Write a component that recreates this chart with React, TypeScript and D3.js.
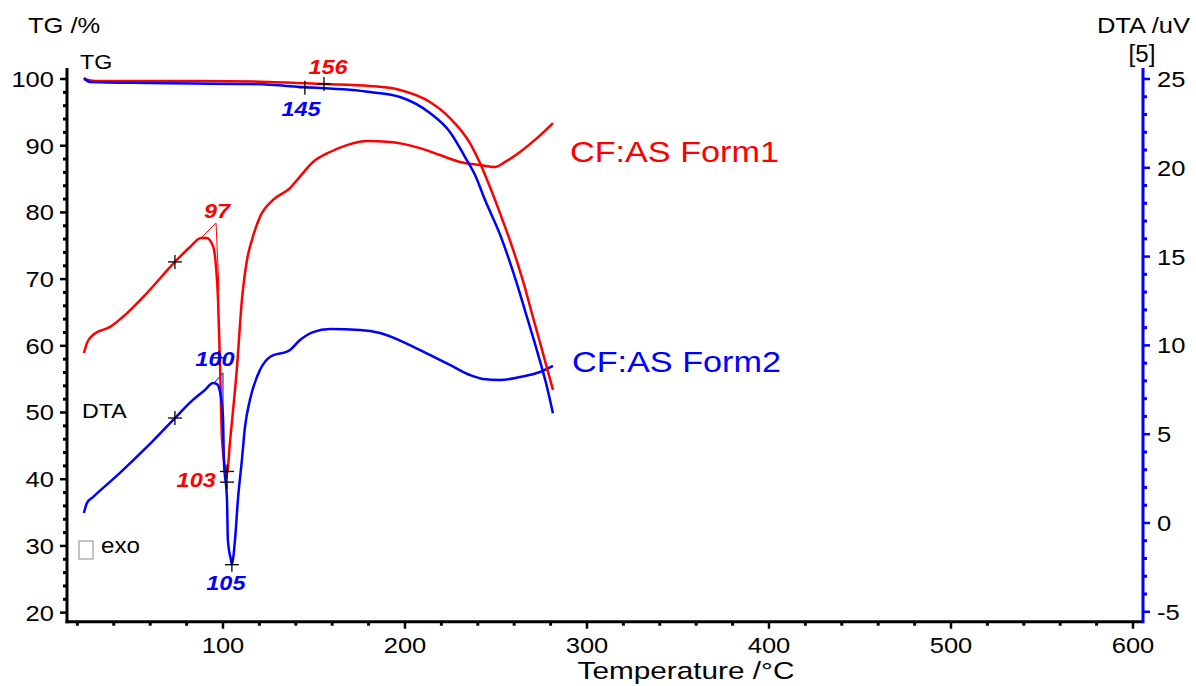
import * as d3 from 'd3';

// [temperature °C, TG %]
const tgForm1: [number, number][] = [
  [23.6, 100.0], [29.7, 99.7], [87.4, 99.7], [120.3, 99.6], [154.9, 99.25],
  [180.8, 98.95], [197.3, 98.35], [213.7, 96.55], [224.7, 94.15], [235.7, 90.4],
  [241.2, 87.4], [246.7, 83.8], [252.2, 79.9], [260.4, 73.6], [265.4, 69.2],
  [270.3, 64.3], [275.3, 59.4], [281.3, 53.4],
];
const tgForm2: [number, number][] = [
  [23.6, 100.15], [26.9, 99.55], [59.9, 99.4], [114.8, 99.25], [143.9, 98.8],
  [180.8, 98.05], [197.3, 97.3], [213.7, 94.9], [224.7, 92.05], [233.0, 88.3],
  [238.5, 85.6], [244.0, 81.85], [252.2, 76.7], [261.4, 69.4], [266.9, 64.4],
  [272.4, 59.4], [277.5, 54.4], [281.3, 49.9],
];
// [temperature °C, DTA uV]
const dtaForm1: [number, number][] = [
  [23.6, 9.57], [25.3, 10.14], [28.6, 10.59], [37.9, 11.04], [47.3, 11.82],
  [58.2, 12.95], [73.6, 14.7], [81.9, 15.54], [87.9, 16.05], [91.2, 16.05],
  [93.4, 15.82], [95.1, 15.37], [96.2, 14.41], [97.3, 12.56], [98.4, 8.78],
  [99.5, 4.67], [102.2, 2.76], [103.8, 4.5], [107.7, 8.78], [110.4, 12.56],
  [113.2, 14.81], [115.9, 15.93], [120.3, 17.23], [127.5, 18.19], [136.8, 18.86],
  [140.7, 19.31], [149.5, 20.33], [158.8, 20.89], [168.1, 21.28], [179.1, 21.51],
  [191.8, 21.45], [208.2, 21.11], [219.2, 20.72], [230.2, 20.33], [241.2, 20.16],
  [249.5, 20.05], [255.0, 20.33], [263.2, 20.89], [271.4, 21.57], [281.3, 22.52],
];
const dtaForm2: [number, number][] = [
  [23.6, 0.56], [25.3, 1.13], [28.6, 1.46], [43.4, 2.82], [58.2, 4.28],
  [73.6, 5.91], [83.5, 6.93], [90.1, 7.49], [94.5, 7.88], [96.7, 7.82],
  [98.4, 7.38], [100.0, 5.97], [100.5, 3.55], [102.2, 1.3], [102.7, -0.96],
  [104.4, -2.08], [104.9, -2.31], [106.6, -0.96], [108.2, 1.3], [110.4, 3.55],
  [112.1, 5.41], [114.8, 6.93], [120.3, 8.61], [125.8, 9.35], [136.8, 9.74],
  [142.3, 10.3], [149.5, 10.75], [158.8, 10.92], [175.3, 10.87], [186.3, 10.7],
  [202.7, 10.02], [213.7, 9.46], [224.7, 8.9], [235.7, 8.33], [242.9, 8.11],
  [252.2, 8.05], [263.2, 8.22], [274.2, 8.5], [281.3, 8.84],
];

// onset tangent constructions (DTA)
const onsetForm1: [number, number][] = [[87.9, 16.05], [96.2, 16.89], [97.8, 13.1]];
const onsetForm2: [number, number][] = [[95.1, 7.88], [100.0, 8.45], [100.0, 5.8]];

// evaluated points
const tgMarks: [number, number][] = [[155.5, 99.25], [145.0, 98.7]];
const dtaMarks: [number, number][] = [
  [73.6, 14.7], [73.6, 5.91], [97.8, 9.3], [102.2, 2.9], [102.2, 2.3], [104.9, -2.35],
];

// annotation texts: [label, T, value, colour]
const tgLabels: [string, number, number, string][] = [
  ['156', 157.7, 100.75, '#ff0000'],
  ['145', 142.9, 94.45, '#0000ff'],
];
const dtaLabels: [string, number, number, string][] = [
  ['97', 96.7, 17.17, '#ff0000'],
  ['100', 95.6, 8.84, '#0000ff'],
  ['103', 85.3, 2.03, '#ff0000'],
  ['105', 101.6, -3.77, '#0000ff'],
];

const xMajor = [100, 200, 300, 400, 500, 600];
const tgMajor = [20, 30, 40, 50, 60, 70, 80, 90, 100];
const dtaMajor = [-5, 0, 5, 10, 15, 20, 25];

const W = 1196;
const H = 686;
const FONT = 'Arial, "Liberation Sans", sans-serif';
const SX = 1.16; // the instrument export draws its text a little wide

type TxtProps = {
  x: number;
  y: number;
  size: number;
  children: any;
  anchor?: string;
  fill?: string;
  bold?: boolean;
  italic?: boolean;
  sx?: number;
  dy?: string;
};

function Txt({ x, y, size, children, anchor = 'start', fill = '#000', bold, italic, sx = SX, dy }: TxtProps) {
  return (
    <text
      transform={`translate(${x},${y}) scale(${sx},1)`}
      fontSize={size}
      textAnchor={anchor}
      fill={fill}
      dy={dy}
      fontWeight={bold ? 'bold' : 'normal'}
      fontStyle={italic ? 'italic' : 'normal'}
    >
      {children}
    </text>
  );
}

export default function App() {
  const x = d3.scaleLinear().domain([14.3, 605.5]).range([67, 1143]);
  const yTg = d3.scaleLinear().domain([18.64, 101.65]).range([621.7, 68]);
  const yDta = d3.scaleLinear().domain([-5.56, 25.62]).range([621.7, 68]);

  const lineTg = d3.line<[number, number]>().x((d) => x(d[0])).y((d) => yTg(d[1])).curve(d3.curveMonotoneX);
  const lineDta = d3.line<[number, number]>().x((d) => x(d[0])).y((d) => yDta(d[1])).curve(d3.curveMonotoneX);
  const plain = d3.line<[number, number]>().x((d) => x(d[0])).y((d) => yDta(d[1]));

  const xMinor = d3.range(20, 606, 20).filter((v) => v % 100 !== 0);
  const tgMinor = d3.range(20, 101, 2).filter((v) => v % 10 !== 0);
  const dtaMinor = d3.range(-5, 26, 1).filter((v) => v % 5 !== 0);

  const x0 = x.range()[0];
  const x1 = x.range()[1];
  const yB = yTg.range()[0];
  const yT = yTg.range()[1];

  const cross = (cx: number, cy: number, k: string) => (
    <g key={k} stroke="#000" strokeWidth={1.3}>
      <line x1={cx - 7} x2={cx + 7} y1={cy} y2={cy} />
      <line x1={cx} x2={cx} y1={cy - 7} y2={cy + 7} />
    </g>
  );

  return (
    <svg width={W} height={H} style={{ position: 'absolute', left: 0, top: 0, background: '#fff' }} fontFamily={FONT}>
      <rect width={W} height={H} fill="#fff" />

      {/* axis titles */}
      <Txt x={28} y={33} size={22}>TG /%</Txt>
      <Txt x={80} y={69} size={20}>TG</Txt>
      <Txt x={1190} y={33} size={22} anchor="end">DTA /uV</Txt>
      <Txt x={1142} y={62} size={23} anchor="middle" sx={1.05}>[5]</Txt>
      <Txt x={686} y={679} size={24} sx={1.24} anchor="middle">Temperature /°C</Txt>
      <Txt x={82} y={418} size={20}>DTA</Txt>
      <rect x={79} y={541} width={14} height={18} fill="none" stroke="#888" strokeWidth={1} />
      <Txt x={101} y={553} size={22} sx={1.1}>exo</Txt>

      {/* left axis */}
      <line x1={x0} x2={x0} y1={yT} y2={yB + 1.5} stroke="#000" strokeWidth={3} />
      {tgMajor.map((v) => (
        <g key={'tg' + v}>
          <line x1={x0 - 7} x2={x0} y1={yTg(v)} y2={yTg(v)} stroke="#000" strokeWidth={2.5} />
          <Txt x={x0 - 13} y={yTg(v)} dy="0.36em" size={22} anchor="end">{v}</Txt>
        </g>
      ))}
      {tgMinor.map((v) => (
        <line key={'tgm' + v} x1={x0 - 4} x2={x0} y1={yTg(v)} y2={yTg(v)} stroke="#000" strokeWidth={3} />
      ))}

      {/* bottom axis */}
      <line x1={x0 - 1.5} x2={x1} y1={yB} y2={yB} stroke="#000" strokeWidth={3} />
      {xMajor.map((v) => (
        <g key={'x' + v}>
          <line x1={x(v)} x2={x(v)} y1={yB} y2={yB + 7} stroke="#000" strokeWidth={2.5} />
          <Txt x={x(v)} y={yB + 31} size={22} anchor="middle">{v}</Txt>
        </g>
      ))}
      {xMinor.map((v) => (
        <line key={'xm' + v} x1={x(v)} x2={x(v)} y1={yB} y2={yB + 4} stroke="#000" strokeWidth={3} />
      ))}

      {/* right axis */}
      <line x1={x1} x2={x1} y1={yT} y2={yB + 1.5} stroke="#0000ff" strokeWidth={3} />
      {dtaMajor.map((v) => (
        <g key={'dta' + v}>
          <line x1={x1} x2={x1 + 7} y1={yDta(v)} y2={yDta(v)} stroke="#0000ff" strokeWidth={2.5} />
          <Txt x={x1 + 14} y={yDta(v)} dy="0.36em" size={22}>{v}</Txt>
        </g>
      ))}
      {dtaMinor.map((v) => (
        <line key={'dtam' + v} x1={x1} x2={x1 + 4} y1={yDta(v)} y2={yDta(v)} stroke="#0000ff" strokeWidth={3} />
      ))}

      {/* onset constructions */}
      <path d={plain(onsetForm1) ?? ''} fill="none" stroke="#ff0000" strokeWidth={1} />
      <path d={plain(onsetForm2) ?? ''} fill="none" stroke="#0000ff" strokeWidth={1} />

      {/* curves */}
      <path d={lineDta(dtaForm1) ?? ''} fill="none" stroke="#ff0000" strokeWidth={2.5} strokeLinejoin="round" />
      <path d={lineDta(dtaForm2) ?? ''} fill="none" stroke="#0000ff" strokeWidth={2.5} strokeLinejoin="round" />
      <path d={lineTg(tgForm1) ?? ''} fill="none" stroke="#ff0000" strokeWidth={2.5} />
      <path d={lineTg(tgForm2) ?? ''} fill="none" stroke="#0000ff" strokeWidth={2.5} />

      {/* evaluation markers */}
      {tgMarks.map((d, i) => cross(x(d[0]), yTg(d[1]), 'tgc' + i))}
      {dtaMarks.map((d, i) => cross(x(d[0]), yDta(d[1]), 'dc' + i))}

      {tgLabels.map(([t, tv, v, c]) => (
        <Txt key={'tl' + t} x={x(tv)} y={yTg(v)} fill={c} size={21} sx={1.12} bold italic anchor="middle">{t}</Txt>
      ))}
      {dtaLabels.map(([t, tv, v, c]) => (
        <Txt key={'dl' + t} x={x(tv)} y={yDta(v)} fill={c} size={21} sx={1.12} bold italic anchor="middle">{t}</Txt>
      ))}

      {/* series names */}
      <Txt x={570} y={162} size={30} sx={1.14} fill="#ff0000">CF:AS Form1</Txt>
      <Txt x={572} y={372} size={30} sx={1.14} fill="#0000ff">CF:AS Form2</Txt>
    </svg>
  );
}
